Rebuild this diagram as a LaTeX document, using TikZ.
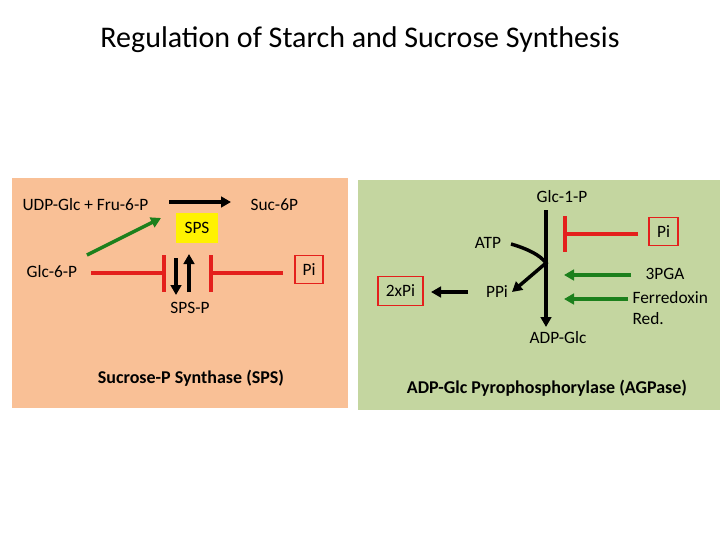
\documentclass[tikz,border=0pt]{standalone}
\usepackage{fontspec}
\setmainfont{Carlito}
\usetikzlibrary{arrows.meta}
\definecolor{peach}{RGB}{249,192,150}
\definecolor{sage}{RGB}{196,214,160}
\definecolor{inhred}{RGB}{228,32,28}
\definecolor{actgreen}{RGB}{28,128,28}
\tikzset{
  lbl/.style={inner sep=1pt, font=\fontsize{13}{15.5}\selectfont},
  bold/.style={inner sep=1pt, font=\fontsize{13.5}{16}\selectfont\bfseries},
  pibox/.style={draw=inhred, line width=0.8pt, inner sep=2pt, minimum height=21.5pt, font=\fontsize{13}{15.5}\selectfont},
  blk/.style={line width=2.6pt, -{Triangle[length=7.5pt,width=8pt]}},
  grn/.style={draw=actgreen, line width=2.6pt, -{Triangle[length=7.5pt,width=8pt]}},
  inh/.style={draw=inhred, line width=2.6pt},
}
\begin{document}
\begin{tikzpicture}[x=0.75pt,y=-0.75pt]
\useasboundingbox (0,0) rectangle (720,540);
\fill[white] (0,0) rectangle (720,540);
% title
\node[font=\fontsize{22.5}{27}\selectfont] (title) at (360,40) {Regulation of Starch and Sucrose Synthesis};
% panels
\fill[peach] (12,178) rectangle (348,408);
\fill[sage] (358,180) rectangle (720,410);

% ---------- left panel ----------
\node[lbl, anchor=west] (udp) at (21,205) {UDP-Glc + Fru-6-P};
\node[lbl, anchor=west] (suc) at (249,205) {Suc-6P};
\coordinate (r1) at (169,202);
\coordinate (r2) at (231,202);
\draw[blk] (r1) -- (r2);
\node[fill=yellow, minimum width=31.5pt, minimum height=22.5pt, inner sep=0pt, font=\fontsize{13}{15.5}\selectfont] (sps) at (197,228) {SPS};
\node[lbl, anchor=west] (g6p) at (25,272) {Glc-6-P};
\coordinate (g1) at (87,255);
\coordinate (g2) at (161,218);
\draw[grn] (g1) -- (g2);
% inhibition from Glc-6-P
\coordinate (i1s) at (91,273);
\coordinate (i1e) at (164,273);
\draw[inh] (i1s) -- (i1e);
\draw[inh] (164,255) -- (164,292);
% phosphorylation arrows
\node[lbl] (spsp) at (190,308) {SPS-P};
\coordinate (d1) at (176,258);
\coordinate (d2) at (176,295);
\draw[blk] (d1) -- (d2);
\coordinate (u1) at (189,292);
\coordinate (u2) at (189,254);
\draw[blk] (u1) -- (u2);
% inhibition from Pi
\node[pibox, minimum width=21pt] (pil) at (309,269.5) {Pi};
\coordinate (i2s) at (283,273);
\coordinate (i2e) at (211,273);
\draw[inh] (i2s) -- (i2e);
\draw[inh] (211,255) -- (211,292);
\node[bold] (spslbl) at (191,378) {Sucrose-P Synthase (SPS)};

% ---------- right panel ----------
\node[lbl] (g1p) at (562,197) {Glc-1-P};
\node[lbl] (adpg) at (558,338) {ADP-Glc};
\coordinate (v1) at (546,210);
\coordinate (v2) at (546,327);
\draw[blk] (v1) -- (v2);
% Pi inhibition
\node[pibox, minimum width=21.75pt] (pir) at (663.5,231.5) {Pi};
\coordinate (i3s) at (638,234);
\coordinate (i3e) at (565,234);
\draw[inh] (i3s) -- (i3e);
\draw[inh] (565,216) -- (565,252);
% ATP / PPi
\node[lbl] (atp) at (488,243) {ATP};
\node[lbl] (ppi) at (497,292) {PPi};
\coordinate (atps) at (511,244);
\coordinate (junc) at (546,263);
\coordinate (ppie) at (512,292);
\draw[line width=2.6pt, -{Triangle[length=7.5pt,width=8pt]}] (atps) .. controls (528,249) and (540,255) .. (junc) -- (ppie);
\node[pibox, minimum width=33.75pt] (twopi) at (400.5,291) {2xPi};
\coordinate (p1) at (468,292);
\coordinate (p2) at (431,292);
\draw[blk] (p1) -- (p2);
% activators
\node[lbl] (pga) at (665,274) {3PGA};
\node[lbl, anchor=west] (fd) at (631,298) {Ferredoxin};
\node[lbl, anchor=west] (red) at (631,319) {Red.};
\coordinate (a1) at (631,275);
\coordinate (a2) at (564,275);
\draw[grn] (a1) -- (a2);
\coordinate (b1) at (628,299);
\coordinate (b2) at (564,299);
\draw[grn] (b1) -- (b2);
\node[bold] (agp) at (547,388) {ADP-Glc Pyrophosphorylase (AGPase)};
\end{tikzpicture}
\end{document}
